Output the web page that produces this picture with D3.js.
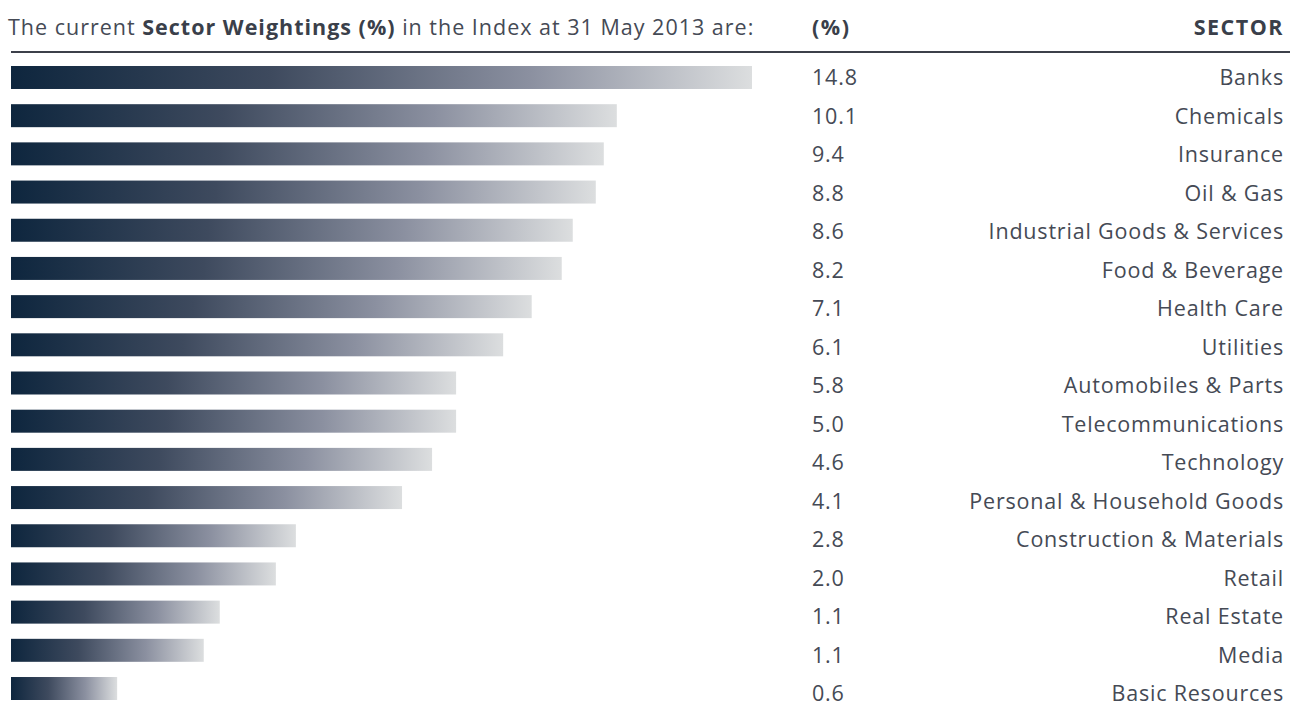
<!DOCTYPE html>
<html>
<head>
<meta charset="utf-8">
<script src="https://cdn.jsdelivr.net/npm/d3@7"></script>
<style>
  body { margin: 0; background: #fff; }
  text { font-family: "Open Sans", "DejaVu Sans", sans-serif; fill: #454a55; font-size: 21.5px; letter-spacing: 0.8px; }
  .hd { font-weight: bold; fill: #3a3f4a; }
</style>
</head>
<body>
<div id="chart"></div>
<script>
var W = 1290, H = 706;

// sectors, top to bottom
var sectors = ["Banks", "Chemicals", "Insurance", "Oil & Gas", "Industrial Goods & Services",
  "Food & Beverage", "Health Care", "Utilities", "Automobiles & Parts", "Telecommunications",
  "Technology", "Personal & Household Goods", "Construction & Materials", "Retail",
  "Real Estate", "Media", "Basic Resources"];
// printed weightings (%)
var weights = [14.8, 10.1, 9.4, 8.8, 8.6, 8.2, 7.1, 6.1, 5.8, 5.0, 4.6, 4.1, 2.8, 2.0, 1.1, 1.1, 0.6];
// bar lengths as drawn in the picture (same % units)
var barLengths = [14.8, 12.1, 11.84, 11.68, 11.22, 11.0, 10.4, 9.83, 8.89, 8.89, 8.41, 7.81, 5.69, 5.29, 4.17, 3.85, 2.12];

var titlePlain1 = "The current ", titleBold = "Sector Weightings (%)", titlePlain2 = " in the Index at 31 May 2013 are:";

var svg = d3.select("#chart").append("svg")
  .attr("width", W).attr("height", H);

var defs = svg.append("defs");
var grad = defs.append("linearGradient").attr("id", "barGrad")
  .attr("x1", "0%").attr("x2", "100%").attr("y1", "0%").attr("y2", "0%");
grad.append("stop").attr("offset", "0%").attr("stop-color", "#0e263e");
grad.append("stop").attr("offset", "35%").attr("stop-color", "#3e4a5e");
grad.append("stop").attr("offset", "70%").attr("stop-color", "#8b90a0");
grad.append("stop").attr("offset", "100%").attr("stop-color", "#dcdedf");

var x = d3.scaleLinear().domain([0, 14.8]).range([11, 752]);
var yBar = d3.scaleBand().domain(sectors).range([66, 700]).paddingInner(0.398).paddingOuter(0);
var yText = d3.scalePoint().domain(sectors).range([85, 701]);

// title
var t = svg.append("text").attr("x", 8).attr("y", 35).style("letter-spacing", "1px");
t.append("tspan").text(titlePlain1);
t.append("tspan").attr("class", "hd").text(titleBold);
t.append("tspan").text(titlePlain2);

svg.append("text").attr("class", "hd").attr("x", 812).attr("y", 35)
  .style("letter-spacing", "1.5px").text("(%)");
svg.append("text").attr("class", "hd").attr("x", 1284).attr("y", 35).attr("text-anchor", "end")
  .style("letter-spacing", "1.5px").text("SECTOR");

svg.append("line").attr("x1", 11).attr("x2", W).attr("y1", 52).attr("y2", 52)
  .attr("stroke", "#3c404a").attr("stroke-width", 2);

svg.selectAll("rect.bar").data(sectors).enter().append("rect")
  .attr("class", "bar")
  .attr("x", x(0))
  .attr("y", function(d) { return yBar(d); })
  .attr("height", yBar.bandwidth())
  .attr("width", function(d, i) { return x(barLengths[i]) - x(0); })
  .attr("fill", "url(#barGrad)");

svg.selectAll("text.val").data(sectors).enter().append("text")
  .attr("class", "val")
  .attr("x", 812)
  .attr("y", function(d) { return yText(d); })
  .text(function(d, i) { return weights[i].toFixed(1); });

svg.selectAll("text.sec").data(sectors).enter().append("text")
  .attr("class", "sec")
  .attr("x", 1284)
  .attr("y", function(d) { return yText(d); })
  .attr("text-anchor", "end")
  .text(function(d) { return d; });
</script>
</body>
</html>
